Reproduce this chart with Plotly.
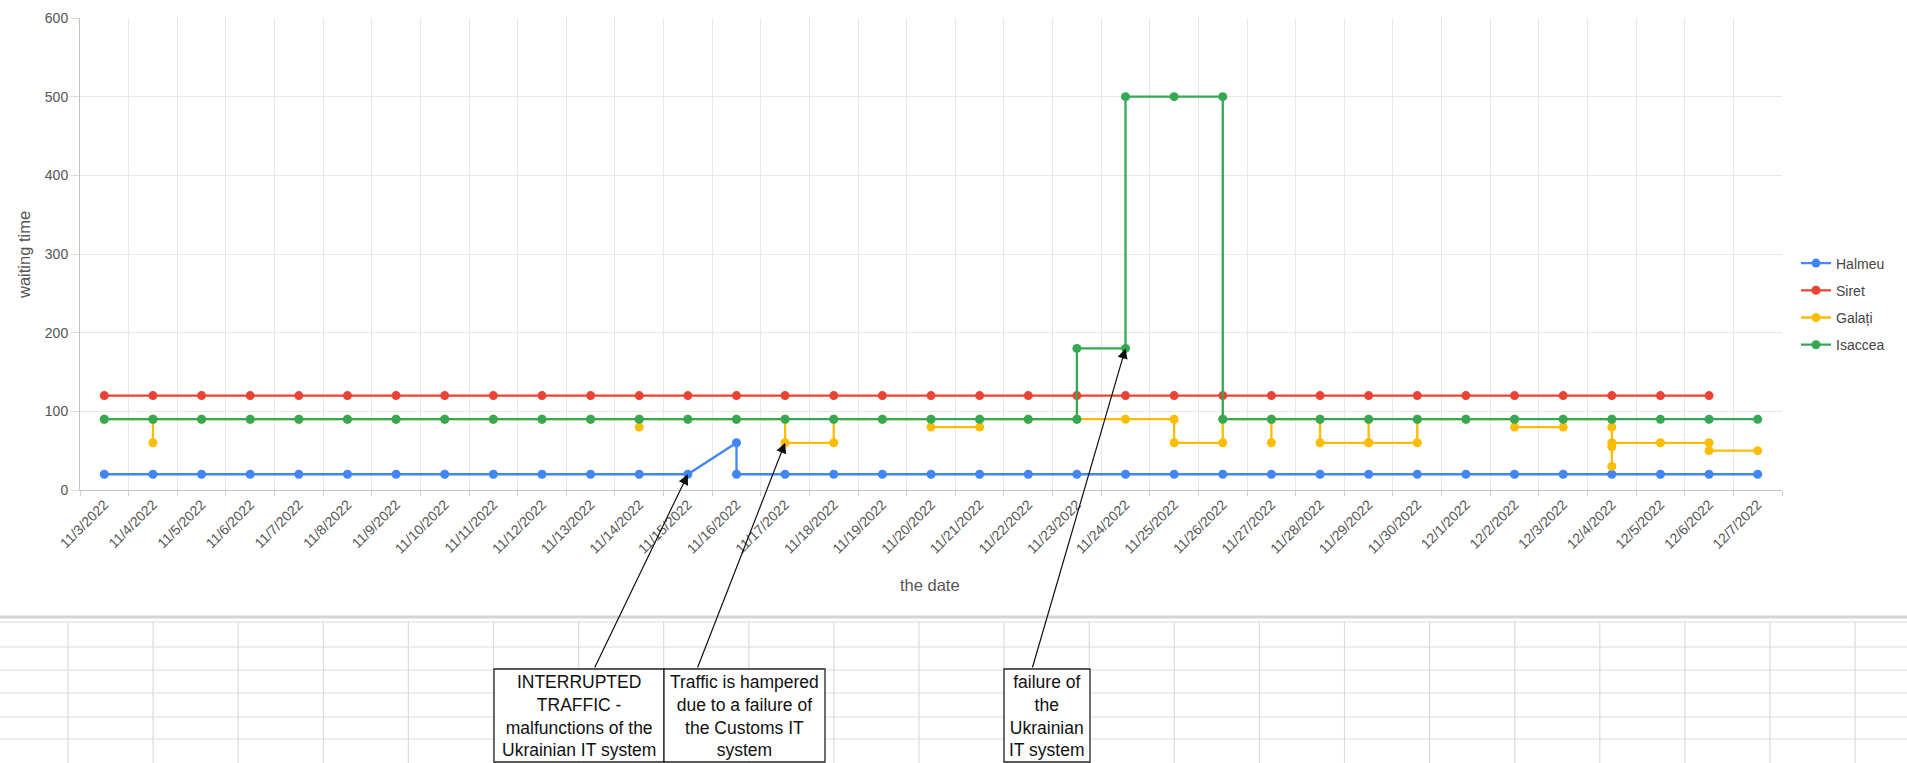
import plotly.graph_objects as go

# ---- data -------------------------------------------------------------
dates = [
    "11/3/2022", "11/4/2022", "11/5/2022", "11/6/2022", "11/7/2022",
    "11/8/2022", "11/9/2022", "11/10/2022", "11/11/2022", "11/12/2022",
    "11/13/2022", "11/14/2022", "11/15/2022", "11/16/2022", "11/17/2022",
    "11/18/2022", "11/19/2022", "11/20/2022", "11/21/2022", "11/22/2022",
    "11/23/2022", "11/24/2022", "11/25/2022", "11/26/2022", "11/27/2022",
    "11/28/2022", "11/29/2022", "11/30/2022", "12/1/2022", "12/2/2022",
    "12/3/2022", "12/4/2022", "12/5/2022", "12/6/2022", "12/7/2022",
]

# readings per day (several readings on the same day are drawn in order)
halmeu = [
    [20], [20], [20], [20], [20], [20], [20], [20], [20], [20],
    [20], [20], [20], [60, 20], [20], [20], [20], [20], [20], [20],
    [20], [20], [20], [20], [20], [20], [20], [20], [20], [20],
    [20], [20], [20], [20], [20],
]
siret = [
    [120], [120], [120], [120], [120], [120], [120], [120], [120], [120],
    [120], [120], [120], [120], [120], [120], [120], [120], [120], [120],
    [120], [120], [120], [120], [120], [120], [120], [120], [120], [120],
    [120], [120], [120], [120], [],
]
galati = [
    [90], [90, 60, 90], [90], [90], [90], [90], [90], [90], [90], [90],
    [90], [90, 80, 90], [90], [90], [90, 60], [60, 90], [90], [90, 80], [80, 90], [90],
    [90], [90], [90, 60], [60, 90], [90, 60, 90], [90, 60], [60, 90, 60], [60, 90], [90], [90, 80],
    [80, 90], [90, 80, 55, 30, 60], [60], [60, 50], [50],
]
isaccea = [
    [90], [90], [90], [90], [90], [90], [90], [90], [90], [90],
    [90], [90], [90], [90], [90], [90], [90], [90], [90], [90],
    [90, 180], [180, 500], [500], [500, 90], [90], [90], [90], [90], [90], [90],
    [90], [90], [90], [90], [90],
]

series_names = ["Halmeu", "Siret", "Galați", "Isaccea"]
series_colors = ["#4285F4", "#EA4335", "#FBBC04", "#34A853"]

notes = [
    "INTERRUPTED<br>TRAFFIC -<br>malfunctions of the<br>Ukrainian IT system",
    "Traffic is hampered<br>due to a failure of<br>the Customs IT<br>system",
    "failure of<br>the<br>Ukrainian<br>IT system",
]
note_dates = ["11/15/2022", "11/17/2022", "11/24/2022"]
note_values = [20, 60, 180]

# ---- geometry ---------------------------------------------------------
W, H = 1907, 763
L, R, T, B = 80, 125, 18, 273
PW, PH = W - L - R, H - T - B
YMAX = 600


def fx(px):
    return (px - L) / PW


def fy(py):
    return (H - B - py) / PH


def head_px(date, value):
    i = dates.index(date)
    return L + (i + 0.5) * PW / len(dates), H - B - value * PH / YMAX


def flatten(per_day):
    xs, ys = [], []
    for d, vals in zip(dates, per_day):
        for v in vals:
            xs.append(d)
            ys.append(v)
    return xs, ys


FONT = "Liberation Sans, Arial, sans-serif"

fig = go.Figure()
for name, per_day, color in zip(series_names, [halmeu, siret, galati, isaccea], series_colors):
    xs, ys = flatten(per_day)
    fig.add_trace(go.Scatter(
        x=xs, y=ys, mode="lines+markers", name=name, legendgroup=name,
        line=dict(color=color, width=2.3),
        marker=dict(size=9, color=color),
    ))

shapes = []
# spreadsheet grid under the chart
grid_col = "#dcdcdc"
shapes.append(dict(type="line", xref="paper", yref="paper", x0=fx(0), x1=fx(W),
                   y0=fy(617), y1=fy(617), line=dict(color="#d4d4d4", width=3)))
for yy in [622, 647, 670, 693, 717, 739]:
    shapes.append(dict(type="line", xref="paper", yref="paper", x0=fx(0), x1=fx(W),
                       y0=fy(yy), y1=fy(yy), line=dict(color=grid_col, width=1.2)))
xx = 68.0
while xx < W:
    shapes.append(dict(type="line", xref="paper", yref="paper", x0=fx(xx), x1=fx(xx),
                       y0=fy(622), y1=fy(H), line=dict(color=grid_col, width=1.2)))
    xx += 85.1

# note boxes
boxes = [(494, 664), (664, 825), (1004, 1090)]
for x0, x1 in boxes:
    shapes.append(dict(type="rect", xref="paper", yref="paper", x0=fx(x0), x1=fx(x1),
                       y0=fy(669), y1=fy(762), fillcolor="white",
                       line=dict(color="#222", width=1.3)))

annotations = []
for (x0, x1), txt in zip(boxes, notes):
    annotations.append(dict(
        xref="paper", yref="paper", x=fx((x0 + x1) / 2), y=fy(670),
        xanchor="center", yanchor="top", text=txt, showarrow=False,
        align="center", font=dict(family=FONT, size=17.5, color="#111"),
    ))

tails = [(594, 669), (697, 669), (1032, 669)]
for d, v, (tx, ty) in zip(note_dates, note_values, tails):
    hx, hy = head_px(d, v)
    annotations.append(dict(
        x=d, y=v, xref="x", yref="y", text="", showarrow=True,
        ax=tx - hx, ay=ty - hy, axref="pixel", ayref="pixel",
        arrowhead=2, arrowsize=1.7, arrowwidth=1.2, arrowcolor="#111",
    ))

# axis titles
annotations.append(dict(xref="paper", yref="paper", x=fx(24), y=fy(255),
                        text="waiting time", textangle=-90, showarrow=False,
                        xanchor="center", yanchor="middle",
                        font=dict(family=FONT, size=16.5, color="#555")))
annotations.append(dict(xref="paper", yref="paper", x=fx(930), y=fy(585),
                        text="the date", showarrow=False,
                        xanchor="center", yanchor="middle",
                        font=dict(family=FONT, size=16.5, color="#555")))

fig.update_layout(
    width=W, height=H,
    margin=dict(l=L, r=R, t=T, b=B, autoexpand=False),
    paper_bgcolor="white", plot_bgcolor="white",
    font=dict(family=FONT, color="#555"),
    xaxis=dict(
        type="category", categoryorder="array", categoryarray=dates,
        range=[-0.5, len(dates) - 0.5], tickson="boundaries",
        ticks="outside", ticklen=5, tickcolor="#d0d0d0", tickangle=-45,
        tickfont=dict(family=FONT, size=14, color="#555"),
        showgrid=True, gridcolor="#e8e8e8", gridwidth=1,
        showline=True, linecolor="#c4c4c4", zeroline=False, automargin=False,
    ),
    yaxis=dict(
        range=[0, YMAX], dtick=100, ticks="outside", ticklen=8, tickcolor="#dcdcdc",
        tickfont=dict(family=FONT, size=14, color="#555"),
        showgrid=True, gridcolor="#e8e8e8", gridwidth=1,
        showline=True, linecolor="#c4c4c4", zeroline=False, automargin=False,
    ),
    legend=dict(
        x=fx(1796), y=fy(304), xanchor="left", yanchor="middle",
        traceorder="grouped", tracegroupgap=6, bgcolor="rgba(0,0,0,0)",
        font=dict(family=FONT, size=14, color="#444"),
    ),
    shapes=shapes,
    annotations=annotations,
    showlegend=True,
)

fig.write_html("out.html")
